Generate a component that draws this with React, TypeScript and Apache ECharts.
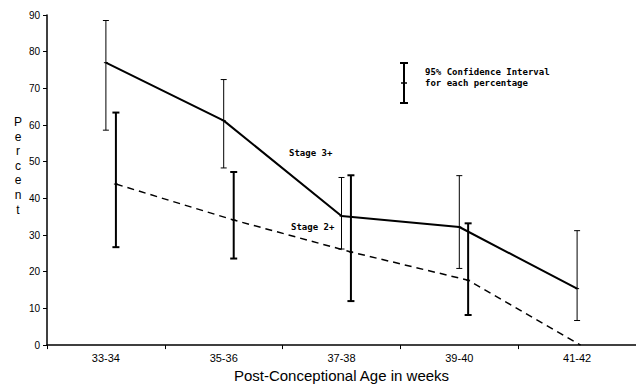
import React, { useEffect, useRef } from "react";
import * as echarts from "echarts";

const categories = ["33-34", "35-36", "37-38", "39-40", "41-42"];
const yTicks = [0, 10, 20, 30, 40, 50, 60, 70, 80, 90];

const stage3X = [0.5, 1.5, 2.5, 3.5, 4.5];
const stage3 = [77, 61.2, 35.2, 32.2, 15.4];
const stage3Low = [58.6, 48.3, 26.2, 20.9, 6.7];
const stage3High = [88.5, 72.4, 45.7, 46.2, 31.2];

const stage2X = [0.585, 1.585, 2.58, 3.575, 4.53];
const stage2 = [43.9, 34.1, 25.4, 17.7, 0];
const stage2Low = [26.7, 23.6, 12.0, 8.2];
const stage2High = [63.4, 47.2, 46.3, 33.2];

const stage3Label = "Stage 3+";
const stage2Label = "Stage 2+";
const legendLines = ["95% Confidence Interval", "for each percentage"];
const yName = "Percent";
const xName = "Post-Conceptional Age in weeks";

function errorBars(xs: number[], mids: number[], lows: number[], highs: number[], width: number, cap: number) {
  return {
    type: "custom",
    xAxisIndex: 1,
    yAxisIndex: 0,
    data: lows.map((l, i) => [xs[i], l, highs[i], mids[i]]),
    renderItem: (params: any, api: any) => {
      const x = api.value(0);
      const lo = api.coord([x, api.value(1)]);
      const hi = api.coord([x, api.value(2)]);
      const md = api.coord([x, api.value(3)]);
      const st = { stroke: "#000", lineWidth: width };
      return {
        type: "group",
        children: [
          { type: "line", shape: { x1: lo[0], y1: lo[1], x2: hi[0], y2: hi[1] }, style: st },
          { type: "line", shape: { x1: lo[0] - cap, y1: lo[1], x2: lo[0] + cap, y2: lo[1] }, style: st },
          { type: "line", shape: { x1: hi[0] - cap, y1: hi[1], x2: hi[0] + cap, y2: hi[1] }, style: st },
          { type: "line", shape: { x1: md[0] - 2, y1: md[1], x2: md[0] + 2, y2: md[1] }, style: { stroke: "#000", lineWidth: 1 } },
        ],
      };
    },
    z: 3,
  };
}

export default function App() {
  const ref = useRef<HTMLDivElement>(null);
  useEffect(() => {
    if (!ref.current) return;
    const chart = echarts.init(ref.current, null, { renderer: "svg" });
    const annFont = "DejaVu Sans Mono";
    const letters = yName.split("");
    chart.setOption({
      animation: false,
      backgroundColor: "#fff",
      grid: { left: 47, right: 0, top: 15, bottom: 40, containLabel: false },
      xAxis: [
        {
          type: "category",
          data: categories,
          boundaryGap: true,
          axisLine: { lineStyle: { color: "#000", width: 1.5 } },
          axisTick: { show: true, length: 4, lineStyle: { color: "#000", width: 1 } },
          axisLabel: { color: "#000", fontSize: 11, fontFamily: "Liberation Sans", margin: 7 },
          name: xName,
          nameLocation: "middle",
          nameGap: 21,
          nameTextStyle: { color: "#000", fontSize: 15, fontFamily: "Liberation Sans" },
          splitLine: { show: false },
        },
        { type: "value", min: 0, max: 5, show: false },
      ],
      yAxis: {
        type: "value",
        min: 0,
        max: 90,
        interval: 10,
        axisLine: { show: true, lineStyle: { color: "#000", width: 1.5 } },
        axisTick: { show: true, length: 4, lineStyle: { color: "#000" } },
        axisLabel: {
          color: "#000",
          fontSize: 10,
          fontFamily: "Liberation Sans",
          margin: 7,
          formatter: (v: number) => (yTicks.includes(v) ? String(v) : ""),
        },
        splitLine: { show: false },
      },
      graphic: [
        ...letters.map((ch, i) => ({
          type: "text",
          x: 18,
          y: 122 + i * 14.6,
          style: {
            text: ch,
            fontSize: 12,
            fontFamily: "Liberation Sans",
            fill: "#000",
            align: "center",
            verticalAlign: "middle",
          },
        })),
        {
          type: "text",
          x: 289,
          y: 153,
          style: { text: stage3Label, fontSize: 9, fontFamily: annFont, fontWeight: "bold", fill: "#000", verticalAlign: "middle" },
        },
        {
          type: "text",
          x: 291,
          y: 227,
          style: { text: stage2Label, fontSize: 9, fontFamily: annFont, fontWeight: "bold", fill: "#000", verticalAlign: "middle" },
        },
        {
          type: "text",
          x: 425,
          y: 66,
          style: { text: legendLines.join("\n"), fontSize: 9, lineHeight: 11, fontFamily: annFont, fontWeight: "bold", fill: "#000" },
        },
        { type: "line", shape: { x1: 404, y1: 63, x2: 404, y2: 103 }, style: { stroke: "#000", lineWidth: 2 } },
        { type: "line", shape: { x1: 400, y1: 63, x2: 408, y2: 63 }, style: { stroke: "#000", lineWidth: 2 } },
        { type: "line", shape: { x1: 400, y1: 103, x2: 408, y2: 103 }, style: { stroke: "#000", lineWidth: 2 } },
        { type: "line", shape: { x1: 401, y1: 83, x2: 407, y2: 83 }, style: { stroke: "#000", lineWidth: 1.5 } },
      ],
      series: [
        {
          type: "line",
          name: stage3Label,
          xAxisIndex: 1,
          data: stage3X.map((x, i) => [x, stage3[i]]),
          symbol: "none",
          lineStyle: { color: "#000", width: 2 },
          z: 4,
        },
        {
          type: "line",
          name: stage2Label,
          xAxisIndex: 1,
          data: stage2X.map((x, i) => [x, stage2[i]]),
          symbol: "none",
          lineStyle: { color: "#000", width: 1.5, type: [7, 5] },
          z: 4,
        },
        errorBars(stage3X, stage3, stage3Low, stage3High, 1, 3),
        errorBars(stage2X, stage2, stage2Low, stage2High, 2, 3.5),
      ],
    });
    return () => chart.dispose();
  }, []);
  return <div ref={ref} style={{ width: 636, height: 388, position: "absolute", left: 0, top: 0 }} />;
}
